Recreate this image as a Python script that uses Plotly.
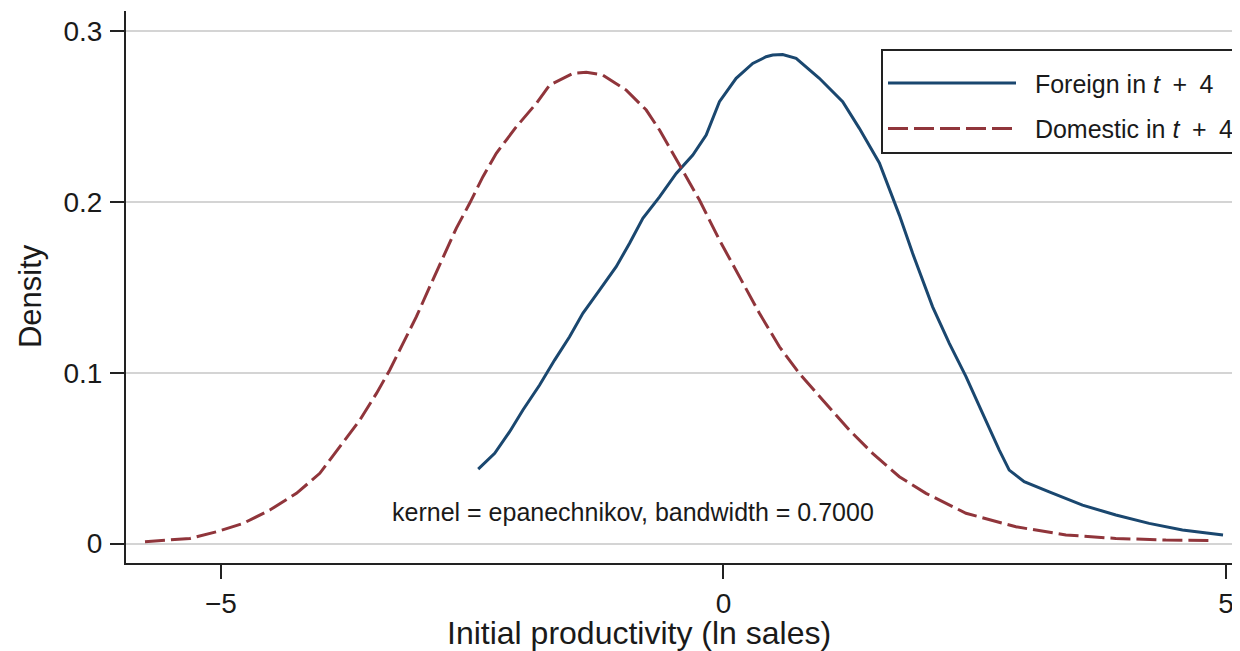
import plotly.graph_objects as go

# ---- data ----
foreign_x = [-2.440, -2.276, -2.127, -1.995, -1.829, -1.680, -1.531, -1.399, -1.233, -1.067,
             -0.934, -0.802, -0.636, -0.470, -0.305, -0.172, -0.040, 0.126, 0.291, 0.424,
             0.490, 0.589, 0.723, 0.954, 1.186, 1.352, 1.551, 1.750, 1.882, 2.081,
             2.247, 2.413, 2.578, 2.744, 2.843, 2.992, 3.241, 3.572, 3.904, 4.235,
             4.566, 4.970]
foreign_y = [0.0436, 0.0528, 0.0655, 0.0782, 0.0928, 0.1074, 0.1211, 0.1348, 0.1484, 0.1621,
             0.1758, 0.1904, 0.2030, 0.2167, 0.2275, 0.2392, 0.2587, 0.2724, 0.2811, 0.2850,
             0.2860, 0.2863, 0.2841, 0.2724, 0.2587, 0.2431, 0.2228, 0.1923, 0.1699, 0.1386,
             0.1172, 0.0977, 0.0762, 0.0547, 0.0430, 0.0362, 0.0303, 0.0225, 0.0167, 0.0118,
             0.0079, 0.0050]

domestic_x = [-5.755, -5.573, -5.308, -5.043, -4.778, -4.513, -4.248, -4.016, -3.817, -3.618,
              -3.452, -3.320, -3.188, -3.055, -2.922, -2.790, -2.657, -2.525, -2.393, -2.260,
              -2.061, -1.862, -1.730, -1.498, -1.365, -1.200, -0.967, -0.768, -0.636, -0.504,
              -0.371, -0.239, -0.040, 0.159, 0.358, 0.557, 0.755, 0.987, 1.252, 1.484,
              1.750, 2.015, 2.413, 2.910, 3.407, 3.904, 4.401, 4.861]
domestic_y = [0.0011, 0.0020, 0.0030, 0.0069, 0.0118, 0.0196, 0.0294, 0.0411, 0.0567, 0.0723,
              0.0879, 0.1016, 0.1172, 0.1328, 0.1504, 0.1679, 0.1847, 0.1992, 0.2148, 0.2285,
              0.2440, 0.2577, 0.2684, 0.2752, 0.2759, 0.2743, 0.2655, 0.2538, 0.2421, 0.2285,
              0.2148, 0.2011, 0.1777, 0.1562, 0.1348, 0.1152, 0.0996, 0.0840, 0.0665, 0.0528,
              0.0391, 0.0294, 0.0177, 0.0098, 0.0050, 0.0030, 0.0020, 0.0018]

x_ticks = [-5, 0, 5]
y_ticks = [0, 0.1, 0.2, 0.3]

NAVY = "#1a476f"
MAROON = "#90353b"
INK = "#1a1a1a"
FONT = "Liberation Sans, Arial, Helvetica, sans-serif"
NB = "\u00a0"

fig = go.Figure()
fig.add_trace(go.Scatter(
    x=foreign_x, y=foreign_y, mode="lines",
    name=NB * 2 + "Foreign in <i>t</i>\u2002+\u20024", legendgroup="f",
    line=dict(color=NAVY, width=3),
))
fig.add_trace(go.Scatter(
    x=domestic_x, y=domestic_y, mode="lines",
    name=NB * 2 + "Domestic in <i>t</i>\u2002+\u20024", legendgroup="d",
    line=dict(color=MAROON, width=3, dash="20px,6px"),
))

# The page body adds an 8px offset; the figure is sized/margined to compensate.
W, H = 1232, 643
fig.update_layout(
    width=W, height=H,
    margin=dict(l=118, r=0, t=3, b=88),
    paper_bgcolor="white", plot_bgcolor="white",
    font=dict(family=FONT, color=INK),
    showlegend=True,
    legend=dict(
        x=0.6786, y=0.931, xanchor="left", yanchor="top",
        bgcolor="white", bordercolor="#222222", borderwidth=2,
        font=dict(size=25, family=FONT, color=INK),
        itemwidth=128, tracegroupgap=10, traceorder="grouped",
        title=dict(text=NB, font=dict(size=7)),
    ),
    xaxis=dict(
        range=[-5.944, 5.129], tickvals=x_ticks,
        showgrid=False, zeroline=False,
        showline=True, linecolor="#222222", linewidth=2,
        ticks="outside", ticklen=14, tickwidth=2, tickcolor="#222222",
        tickfont=dict(size=28, family=FONT, color=INK),
    ),
    yaxis=dict(
        range=[-0.0114, 0.3118], tickvals=y_ticks,
        showgrid=True, gridcolor="#d4d4d4", gridwidth=2, zeroline=False,
        showline=True, linecolor="#222222", linewidth=2,
        ticks="outside", ticklen=14, tickwidth=2, tickcolor="#222222",
        tickfont=dict(size=28, family=FONT, color=INK),
        ticklabelstandoff=2,
    ),
    annotations=[
        dict(text="Initial productivity (ln sales)", xref="paper", yref="paper",
             x=(639 - 126) / 1114, y=(563 - 633) / 552, xanchor="center", yanchor="middle",
             showarrow=False, font=dict(size=32, family=FONT, color=INK)),
        dict(text="Density", xref="paper", yref="paper", textangle=-90,
             x=(30 - 126) / 1114, y=(563 - 296) / 552, xanchor="center", yanchor="middle",
             showarrow=False, font=dict(size=31, family=FONT, color=INK)),
        dict(text="kernel = epanechnikov, bandwidth = 0.7000", xref="paper", yref="paper",
             x=(390 - 126) / 1114, y=(563 - 512) / 552, xanchor="left", yanchor="middle",
             showarrow=False, font=dict(size=25, family=FONT, color=INK)),
    ],
)

fig.write_html("out.html")
